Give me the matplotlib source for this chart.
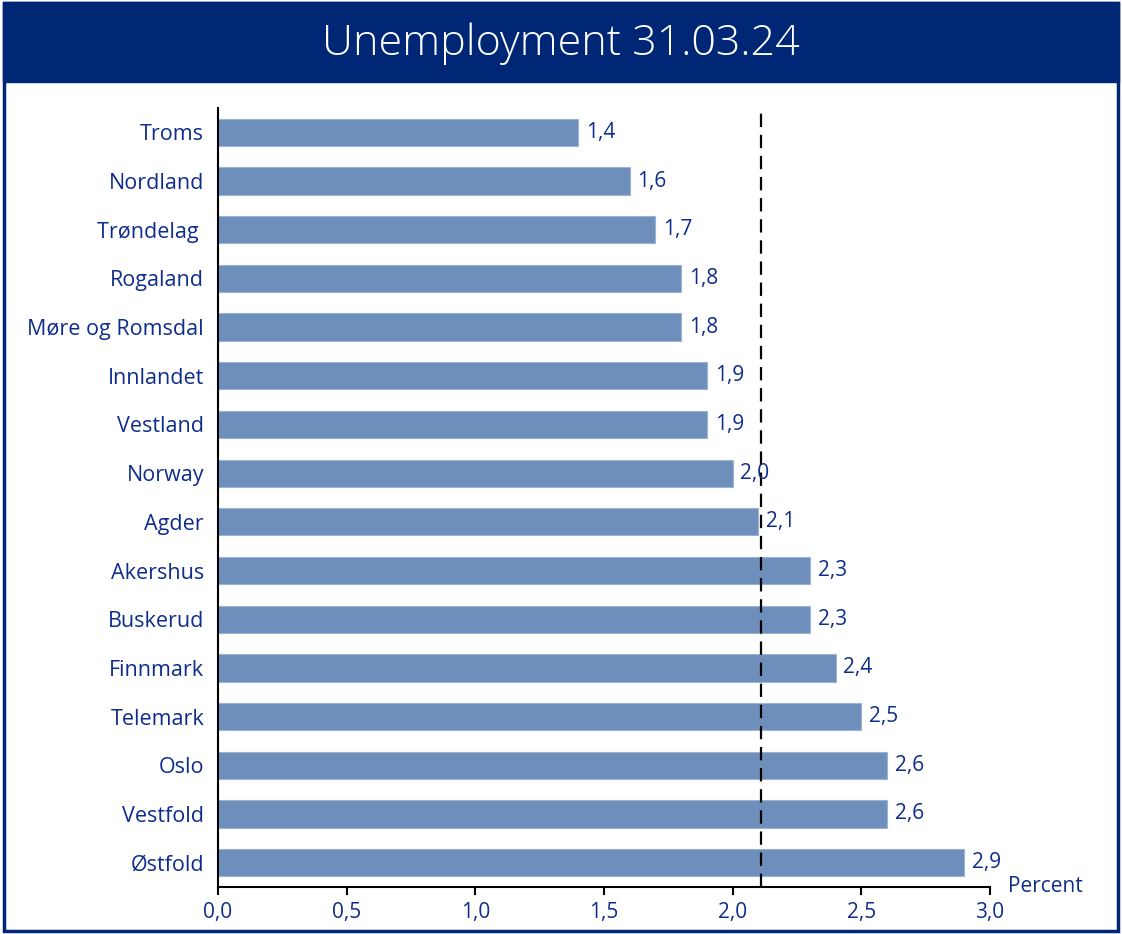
import matplotlib.pyplot as plt
from matplotlib.patches import Rectangle
from matplotlib.ticker import FuncFormatter

# unemployment by county, percent
regions = ["Troms", "Nordland", "Trøndelag ", "Rogaland", "Møre og Romsdal",
           "Innlandet", "Vestland", "Norway", "Agder", "Akershus", "Buskerud",
           "Finnmark", "Telemark", "Oslo", "Vestfold", "Østfold"]
rates = [1.4, 1.6, 1.7, 1.8, 1.8, 1.9, 1.9, 2.0, 2.1, 2.3, 2.3, 2.4, 2.5,
         2.6, 2.6, 2.9]
ref_line = 2.11
x_ticks = [0.0, 0.5, 1.0, 1.5, 2.0, 2.5, 3.0]

navy = "#002776"
text_col = "#0E2D8C"
bar_col = "#6E8FBC"

plt.rcParams['font.family'] = ['Open Sans', 'DejaVu Sans']

fig = plt.figure(figsize=(11.22, 9.34), dpi=100)

# frame and title banner
fig.patches.append(Rectangle((0.004, 0.003), 0.992, 0.994, transform=fig.transFigure,
                             fill=False, edgecolor=navy, linewidth=2.5))
fig.patches.append(Rectangle((0.003, 0.912), 0.994, 0.086, transform=fig.transFigure,
                             facecolor=navy, edgecolor=navy))
fig.text(0.5, 0.953, "Unemployment 31.03.24", color="white", fontsize=31,
         fontweight="light", ha="center", va="center")

ax = fig.add_axes([218 / 1122, 1 - 887 / 934, (990 - 218) / 1122, (887 - 108) / 934])
ypos = range(len(regions))
ax.barh(ypos, rates, height=0.56, color=bar_col, edgecolor="#9DB3D3", linewidth=0.8)
for y, v in zip(ypos, rates):
    ax.text(v + 0.03, y, f"{v:.1f}".replace(".", ","), va="center", ha="left",
            color=text_col, fontsize=15)

ax.axvline(ref_line, color="black", linestyle=(0, (6, 3.5)), linewidth=1.6)

ax.set_ylim(len(regions) - 0.5, -0.5)
ax.set_xlim(0, 3.0)
ax.set_yticks(list(ypos))
ax.set_yticklabels(regions, color=text_col, fontsize=15.5)
ax.set_xticks(x_ticks)
ax.xaxis.set_major_formatter(FuncFormatter(lambda v, p: f"{v:.1f}".replace(".", ",")))
ax.tick_params(axis="x", colors="black", labelcolor=text_col, labelsize=15,
               length=6, width=1.5, pad=5)
ax.tick_params(axis="y", length=0, pad=10)
for side in ["top", "right"]:
    ax.spines[side].set_visible(False)
ax.spines["left"].set_linewidth(1.5)
ax.spines["bottom"].set_linewidth(1.5)

fig.text(1008 / 1122, 1 - 887 / 934, "Percent", color=text_col, fontsize=15,
         ha="left", va="center")

fig.savefig("out.png", dpi=100)
